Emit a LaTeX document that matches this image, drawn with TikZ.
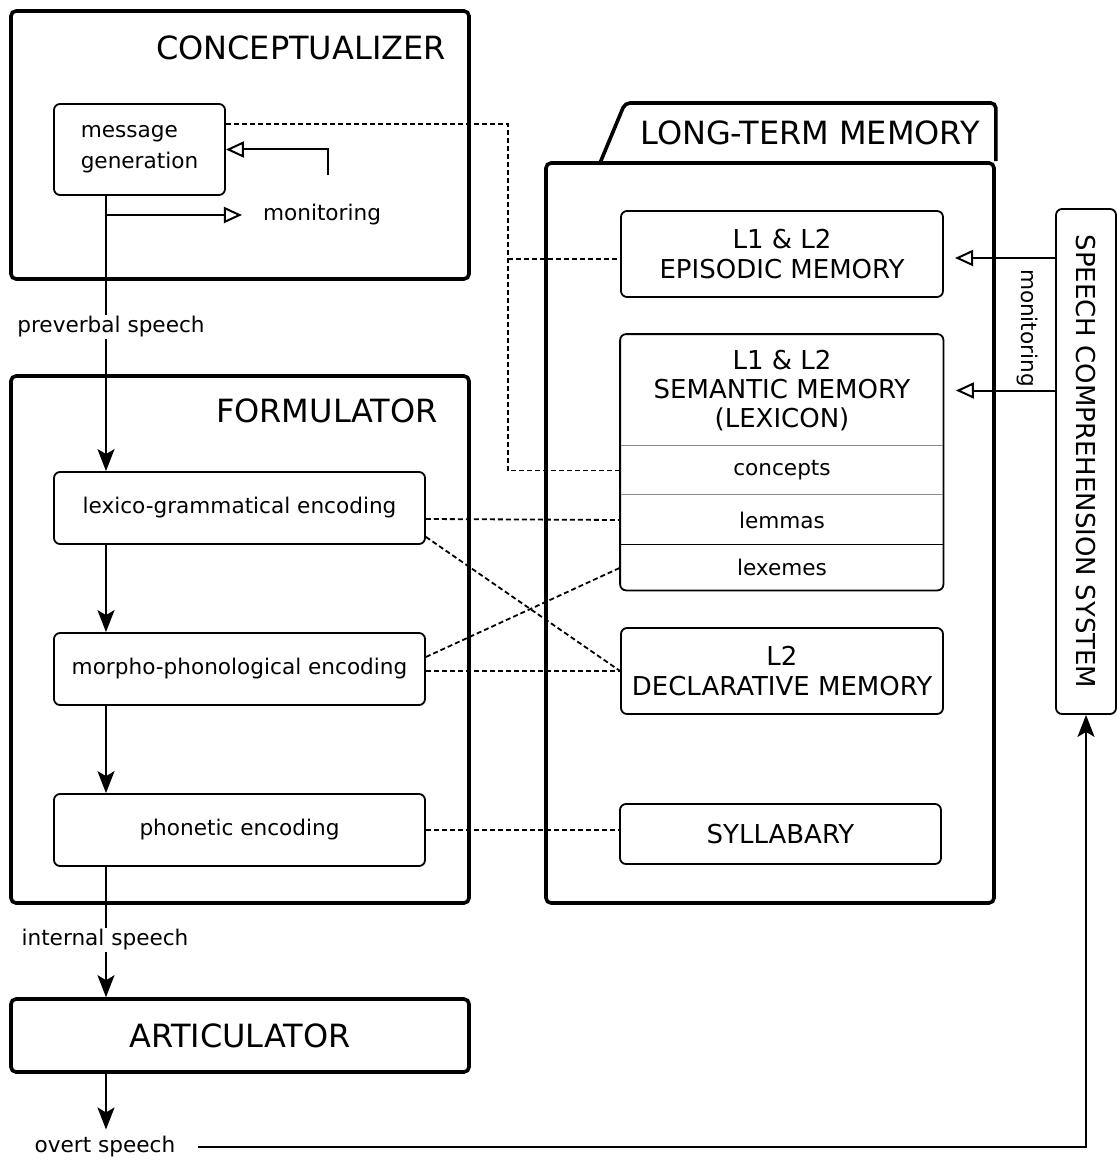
\documentclass[tikz,border=0pt]{standalone}
\usepackage{fontspec}
\setmainfont{DejaVu Sans}
\usetikzlibrary{arrows.meta,positioning}

\begin{document}
\begin{tikzpicture}
[x=0.5pt,y=-0.5pt,
 bigbox/.style={draw,line width=1.8pt,rounded corners=2.5pt},
 unit/.style={draw,line width=0.9pt,rounded corners=3pt,align=center,font=\fontsize{10.8}{15.5}\selectfont},
 store/.style={draw,line width=0.9pt,rounded corners=3pt,minimum width=161pt,align=center,font=\fontsize{13}{14.7}\selectfont},
 cell/.style={minimum width=161pt,inner sep=0pt,font=\fontsize{10.8}{13}\selectfont},
 title/.style={font=\fontsize{16}{19}\selectfont},
 small/.style={font=\fontsize{10.8}{13}\selectfont},
 flow/.style={-{Stealth[length=11pt,width=8.5pt,inset=2.5pt]},line width=1.1pt},
 mon/.style={-{Triangle[open,length=9pt,width=8pt]},line width=1pt},
 link/.style={dash pattern=on 2.5pt off 1.5pt,line width=0.9pt}]

\useasboundingbox (0,0) rectangle (1116,1160);

% the three stages on the left
\node[bigbox,minimum width=229pt,minimum height=134pt] (concbox) at (240,145) {};
\node[title,anchor=east] (conc) at (453,48) {CONCEPTUALIZER};
\node[unit,minimum width=85.5pt,minimum height=45.5pt,align=left] (mg) at (139.5,149.5) {message\\generation};
\node[small] (monl) at (322,215) {monitoring};

\node[bigbox,minimum width=229pt,minimum height=263.5pt] (formbox) at (240,639.5) {};
\node[title,anchor=east] (form) at (445,411) {FORMULATOR};
\node[unit,minimum width=185.5pt,minimum height=36pt] (lexico) at (239.5,508) {lexico-grammatical encoding};
\node[unit,minimum width=185.5pt,minimum height=36pt] (morpho) at (239.5,669) {morpho-phonological encoding};
\node[unit,minimum width=185.5pt,minimum height=36pt] (phon) at (239.5,830) {phonetic encoding};

\node[bigbox,minimum width=229pt,minimum height=36.5pt,title] (art) at (240,1035.5) {ARTICULATOR};

% long-term memory
\node[bigbox,minimum width=224pt,minimum height=370pt] (ltm) at (770,533) {};
\draw[line width=1.8pt,rounded corners=2.5pt] (600,163) -- (625,103) -| (ltm.north east);
\node[title] (ltmt) at (810,133) {LONG-TERM MEMORY};

\node[store,minimum height=43pt] (epi) at (782,254) {L1 \& L2\\EPISODIC MEMORY};
\node[store,draw=none,minimum height=55.5pt] (semhead) at (782,390.5) {L1 \& L2\\SEMANTIC MEMORY\\(LEXICON)};
\node[cell,minimum height=24.5pt] (concepts) at (782,470.5) {concepts};
\node[cell,minimum height=25pt] (lemmas) at (782,520) {lemmas};
\node[cell,minimum height=22.5pt] (lexemes) at (782,567.5) {lexemes};
\draw[line width=0.9pt,rounded corners=3pt] (semhead.north west) rectangle (lexemes.south east);
\draw[black!45,line width=0.6pt] (concepts.north west) -- (concepts.north east);
\draw[black!45,line width=0.6pt] (lemmas.north west) -- (lemmas.north east);
\draw[line width=0.6pt] (lexemes.north west) -- (lexemes.north east);
\node[store,minimum height=43pt] (decl) at (782,671) {L2\\DECLARATIVE MEMORY};
\node[store,minimum width=160.5pt,minimum height=30pt] (syl) at (780.5,834) {SYLLABARY};

% comprehension
\node[draw,line width=0.9pt,rounded corners=3pt,minimum width=30pt,minimum height=252.5pt] (scs) at (1086,461.5) {};
\node[rotate=-90,font=\fontsize{13}{15}\selectfont] (scst) at (scs) {SPEECH COMPREHENSION SYSTEM};
\node[small,rotate=-90] (monv) at (1027,328) {monitoring};

% speech flow
\coordinate (sp) at (106,0);
\coordinate (br) at (106,215);
\coordinate (fb) at (328,175);
\coordinate (jn) at (508,259);
\draw[flow] (sp |- mg.south) -- (sp |- lexico.north);
\node[small,fill=white,inner sep=1pt] (pre) at (111,327) {preverbal speech};
\draw[flow] (sp |- lexico.south) -- (sp |- morpho.north);
\draw[flow] (sp |- morpho.south) -- (sp |- phon.north);
\draw[flow] (sp |- phon.south) -- (sp |- art.north);
\node[small,fill=white,inner sep=1pt] (intl) at (105,940) {internal speech};
\node[small] (overt) at (105,1147) {overt speech};
\draw[flow] (sp |- art.south) -- (sp |- overt.north);
\draw[flow] ([xshift=8pt]overt.east) -| (scs.south);

% monitoring loops
\draw[mon] (br) -- ([xshift=-7pt]monl.west);
\draw[mon] (fb) |- (mg.east);
\draw[mon] (scs.west |- 0,258) -- (955,258);
\draw[mon] (scs.west |- semhead.east) -- ([xshift=6pt]semhead.east);

% access to memory
\draw[link] ([yshift=12.75pt]mg.east) -| (jn) |- (concepts.west);
\draw[link] (jn) -- (jn -| epi.west);
\draw[link] ([yshift=-5.5pt]lexico.east) -- (lemmas.west);
\draw[link] ([yshift=4pt]lexico.south east) -- (decl.west);
\draw[link] ([yshift=6pt]morpho.east) -- (lexemes.west);
\draw[link] ([yshift=-1pt]morpho.east) -- (decl.west);
\draw[link] (phon.east) -- (phon.east -| syl.west);

\end{tikzpicture}
\end{document}
